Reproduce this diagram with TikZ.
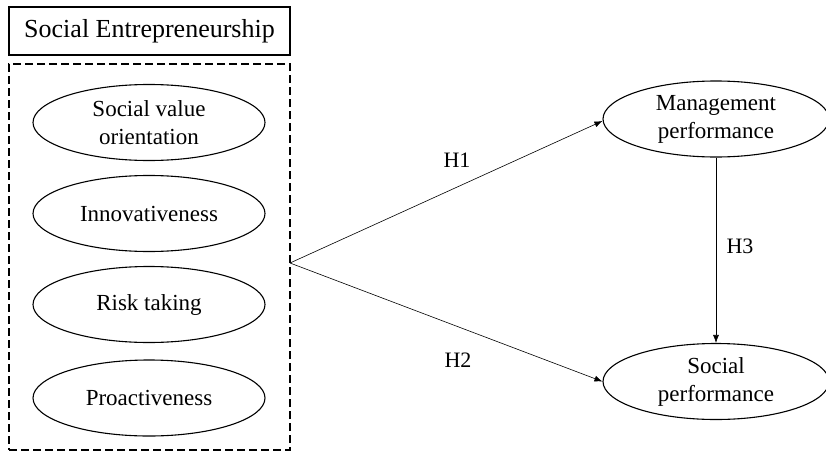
\documentclass[tikz,border=0pt]{standalone}
\usepackage{fontspec}
\setmainfont{Liberation Serif}
\usetikzlibrary{shapes.geometric,arrows.meta}
\begin{document}
\begin{tikzpicture}[x=1pt,y=-1pt,
  oval/.style={draw,ellipse,line width=1.1pt,minimum width=232pt,minimum height=76pt,inner sep=0pt,align=center,font=\fontsize{23}{28}\selectfont},
  conn/.style={draw,line width=0.6pt,-{Latex[length=8pt,width=6pt]}},
  hlabel/.style={font=\fontsize{22}{26}\selectfont},
  dashbox/.style={draw,line width=1.1pt,dash pattern=on 8pt off 4pt}]
\useasboundingbox (0,0) rectangle (826,455);
\node[draw,line width=1.1pt,minimum width=281pt,minimum height=48pt,inner sep=0pt,font=\fontsize{26}{30}\selectfont] (title) at (149.5,31) {Social Entrepreneurship};
\node[dashbox,minimum width=281pt,minimum height=386pt,inner sep=0pt] (group) at (149.5,257) {};
\node[oval] (svo) at (149,122.5) {Social value\\orientation};
\node[oval] (inn) at (149,213.5) {Innovativeness};
\node[oval] (risk) at (149,304.5) {Risk taking};
\node[oval] (pro) at (149,398) {Proactiveness};
\node[oval,minimum width=226pt] (mp) at (716,119) {Management\\performance};
\node[oval,minimum width=226pt] (sp) at (716,381.5) {Social\\performance};
\coordinate (src) at (290,263);
\draw[conn] (src) -- ([yshift=-2pt]mp.west);
\draw[conn] (src) -- (sp.west);
\draw[conn] (mp.south) -- (sp.north);
\node[hlabel] (h1) at (457,160) {H1};
\node[hlabel] (h2) at (458,360) {H2};
\node[hlabel] (h3) at (740,246) {H3};
\end{tikzpicture}
\end{document}
